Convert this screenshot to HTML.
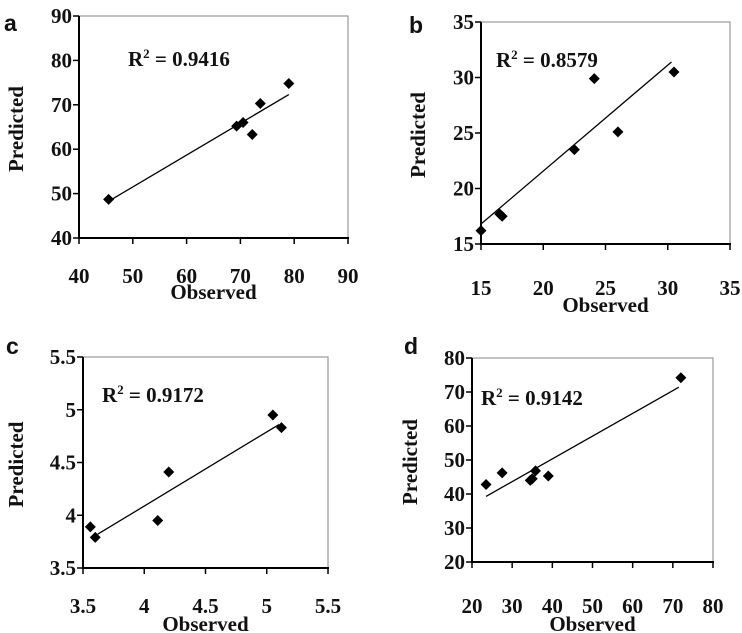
<!DOCTYPE html>
<html><head><meta charset="utf-8"><style>
body{margin:0;background:#fff}
svg{display:block}
text{font-family:"Liberation Serif",serif;font-weight:bold;fill:#111}
.lab{font-family:"Liberation Sans",sans-serif;font-size:23px}
</style></head><body>
<svg id="c" width="742" height="633" viewBox="0 0 742 633"></svg>
<script>
// Panel a
const aObs=[45.5,69.3,70.5,72.2,73.7,79];
const aPred=[48.7,65.2,66,63.3,70.3,74.8];
const aFit=[[45.8,48.5],[79,72.3]];
const aTicks=[40,50,60,70,80,90];
// Panel b
const bObs=[15,16.5,16.7,22.5,24.1,26,30.5];
const bPred=[16.2,17.7,17.5,23.5,29.9,25.1,30.5];
const bFit=[[15,16.8],[30.3,31.4]];
const bTicks=[15,20,25,30,35];
// Panel c
const cObs=[3.56,3.6,4.11,4.2,5.05,5.12];
const cPred=[3.89,3.79,3.95,4.41,4.95,4.83];
const cFit=[[3.62,3.82],[5.1,4.86]];
const cTicks=[3.5,4,4.5,5,5.5];
// Panel d
const dObs=[23.5,27.5,34.5,35,35.8,39,72];
const dPred=[42.8,46.2,44,44.5,46.8,45.3,74.2];
const dFit=[[23.5,39.3],[71.5,71.4]];
const dXTicks=[20,30,40,50,60,70,80];
const dYTicks=[20,30,40,50,60,70,80];
const R2=["R","2"," = 0.9416"," = 0.8579"," = 0.9172"," = 0.9142"];

const NS="http://www.w3.org/2000/svg";
const svg=document.getElementById('c');
function el(t,a,p){const e=document.createElementNS(NS,t);for(const k in a)e.setAttribute(k,a[k]);(p||svg).appendChild(e);return e;}

function panel(o){
  const g=el('g',{});
  
  
  const xs=v=>o.x0+(v-o.xt[0])/(o.xt[o.xt.length-1]-o.xt[0])*(o.x1-o.x0);
  const ys=v=>o.y1-(v-o.yt[0])/(o.yt[o.yt.length-1]-o.yt[0])*(o.y1-o.y0);
  const frame=el('rect',{x:o.x0,y:o.y0,width:o.x1-o.x0,height:o.y1-o.y0,fill:'none',stroke:'#999','stroke-width':1.2},g);
  
  
  el('line',{x1:o.x0,y1:o.y0,x2:o.x0,y2:o.y1+1,stroke:'#000','stroke-width':2},g);
  el('line',{x1:o.x0-1,y1:o.y1,x2:o.x1+1,y2:o.y1,stroke:'#000','stroke-width':2},g);
  o.xt.forEach(v=>{
    el('line',{x1:xs(v),y1:o.y1,x2:xs(v),y2:o.y1+6,stroke:'#000','stroke-width':1.5},g);
    const t=el('text',{x:xs(v),y:o.tickY,'text-anchor':'middle','font-size':21},g);
    t.textContent=v;
    
    
  });
  o.yt.forEach(v=>{
    el('line',{x1:o.x0-6,y1:ys(v),x2:o.x0,y2:ys(v),stroke:'#000','stroke-width':1.5},g);
    const t=el('text',{x:o.x0-7,y:ys(v)+7,'text-anchor':'end','font-size':21},g);
    t.textContent=v;
    
    
  });
  const f=o.fit;
  const ln=el('line',{x1:xs(f[0][0]),y1:ys(f[0][1]),x2:xs(f[1][0]),y2:ys(f[1][1]),stroke:'#000','stroke-width':1.3},g);
  
  
  o.obs.forEach((v,i)=>{
    const cx=xs(v),cy=ys(o.pred[i]);
    const p=el('polygon',{points:`${cx},${cy-5.5} ${cx+5.5},${cy} ${cx},${cy+5.5} ${cx-5.5},${cy}`,fill:'#000'},g);
    
    
  });
  const xl=el('text',{x:(o.x0+o.x1)/2,y:o.xLabY,'text-anchor':'middle','font-size':21},g);
  xl.textContent='Observed';
  
  
  const yl=el('text',{x:0,y:0,'text-anchor':'middle','font-size':21,transform:`translate(${o.yLabX},${(o.y0+o.y1)/2+2}) rotate(-90)`},g);
  yl.textContent='Predicted';
  
  
  const r=el('text',{x:o.rx,y:o.ry,'font-size':21},g);
  
  
  const s1=el('tspan',{},r);s1.textContent=R2[0];
  const s2=el('tspan',{dy:-8,'font-size':13},r);s2.textContent=R2[1];
  const s3=el('tspan',{dy:8},r);s3.textContent=o.r2;
  const L=el('text',{x:o.lx,y:o.ly,class:'lab'},g);
  L.textContent=o.id;
  
  
}
panel({id:'a',x0:79,x1:348,y0:16,y1:238,xt:aTicks,yt:aTicks,obs:aObs,pred:aPred,fit:aFit,tickY:283,xLabY:299,yLabX:23,rx:128,ry:66,r2:R2[2],lx:4,ly:31});
panel({id:'b',x0:481,x1:730,y0:22,y1:244,xt:bTicks,yt:bTicks,obs:bObs,pred:bPred,fit:bFit,tickY:295,xLabY:312,yLabX:425,rx:496,ry:67,r2:R2[3],lx:409,ly:33});
panel({id:'c',x0:83,x1:328,y0:357,y1:568,xt:cTicks,yt:cTicks,obs:cObs,pred:cPred,fit:cFit,tickY:613,xLabY:631,yLabX:23,rx:102,ry:402,r2:R2[4],lx:6,ly:354});
panel({id:'d',x0:472,x1:713,y0:358,y1:562,xt:dXTicks,yt:dYTicks,obs:dObs,pred:dPred,fit:dFit,tickY:613,xLabY:631,yLabX:417,rx:481,ry:405,r2:R2[5],lx:404,ly:354});
</script>
</body></html>
